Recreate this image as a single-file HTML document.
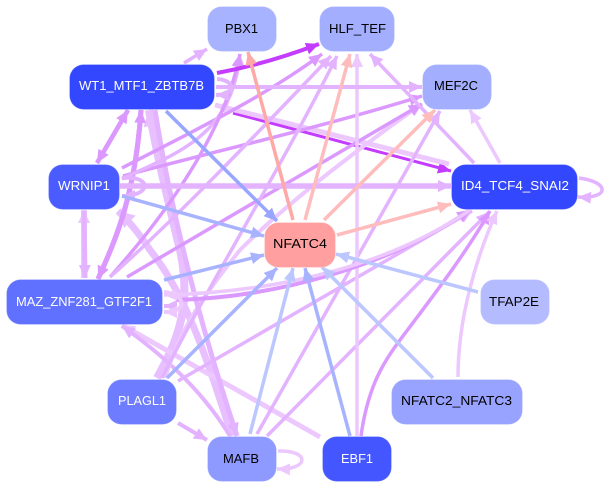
<!DOCTYPE html>
<html>
<head>
<meta charset="utf-8">
<style>
html,body{margin:0;padding:0;background:#fff;width:609px;height:489px;overflow:hidden}
svg{display:block}
svg>path{fill:none}
.c1{stroke:#e3b3ff;marker-end:url(#m1)}
.c2{stroke:#db99ff;marker-end:url(#m2)}
.c3{stroke:#c43cff;marker-end:url(#m3)}
.c4{stroke:#ecc8ff;marker-end:url(#m4)}
.b1{stroke:#98a6ff;marker-end:url(#b1)}
.b2{stroke:#a8b3ff;marker-end:url(#b2)}
.b3{stroke:#bcc6ff;marker-end:url(#b3)}
.r1{stroke:#ffa8a8;marker-end:url(#r1)}
.r2{stroke:#ffbcbc;marker-end:url(#r2)}
.L4{stroke:#e8c0ff;marker-end:url(#L4)}
text{font-family:"Liberation Sans",sans-serif;font-size:13px;text-anchor:start}
rect{stroke:#fff;stroke-opacity:.25;stroke-width:1}
</style>
</head>
<body>
<svg width="609" height="489" viewBox="0 0 609 489" xmlns="http://www.w3.org/2000/svg">
<defs>
<marker id="m1" markerUnits="userSpaceOnUse" viewBox="0 0 13 12" refX="13" refY="6" markerWidth="13" markerHeight="12" orient="auto"><polygon points="0,0 13,6 0,12" fill="#e3b3ff"/></marker>
<marker id="m2" markerUnits="userSpaceOnUse" viewBox="0 0 13 12" refX="13" refY="6" markerWidth="13" markerHeight="12" orient="auto"><polygon points="0,0 13,6 0,12" fill="#db99ff"/></marker>
<marker id="m3" markerUnits="userSpaceOnUse" viewBox="0 0 13 12" refX="13" refY="6" markerWidth="13" markerHeight="12" orient="auto"><polygon points="0,0 13,6 0,12" fill="#c43cff"/></marker>
<marker id="m4" markerUnits="userSpaceOnUse" viewBox="0 0 13 12" refX="13" refY="6" markerWidth="13" markerHeight="12" orient="auto"><polygon points="0,0 13,6 0,12" fill="#ecc8ff"/></marker>
<marker id="b1" markerUnits="userSpaceOnUse" viewBox="0 0 13 12" refX="13" refY="6" markerWidth="13" markerHeight="12" orient="auto"><polygon points="0,0 13,6 0,12" fill="#98a6ff"/></marker>
<marker id="b2" markerUnits="userSpaceOnUse" viewBox="0 0 13 12" refX="13" refY="6" markerWidth="13" markerHeight="12" orient="auto"><polygon points="0,0 13,6 0,12" fill="#a8b3ff"/></marker>
<marker id="b3" markerUnits="userSpaceOnUse" viewBox="0 0 13 12" refX="13" refY="6" markerWidth="13" markerHeight="12" orient="auto"><polygon points="0,0 13,6 0,12" fill="#bcc6ff"/></marker>
<marker id="r1" markerUnits="userSpaceOnUse" viewBox="0 0 13 12" refX="13" refY="6" markerWidth="13" markerHeight="12" orient="auto"><polygon points="0,0 13,6 0,12" fill="#ffa8a8"/></marker>
<marker id="r2" markerUnits="userSpaceOnUse" viewBox="0 0 13 12" refX="13" refY="6" markerWidth="13" markerHeight="12" orient="auto"><polygon points="0,0 13,6 0,12" fill="#ffbcbc"/></marker>
<marker id="L4" markerUnits="userSpaceOnUse" viewBox="0 0 16 17" refX="16" refY="8.500" markerWidth="16" markerHeight="17" orient="auto"><polygon points="0,0 16,8.500 0,17" fill="#e8c0ff"/></marker>
</defs>

<path class="c3" stroke-width="3" d="M233,113 L451,171"/>

<!-- thick light edges -->
<path class="L4" stroke-width="8" d="M157,378 C178,340 192,305 180,250 C168,200 158,160 149,110"/>
<path class="L4" stroke-width="7" d="M232,436 C210,370 190,300 150,250 C140,235 130,222 118,211"/>
<path class="c4" stroke-width="5" d="M449,164 L215,105"/>
<path class="c4" stroke-width="5" d="M320,437 L122,325"/>
<path class="c1" stroke-width="4" d="M230,436 C205,395 170,360 122,326"/>
<path class="c4" stroke-width="6" d="M84,278 L84,210"/>
<path class="c1" stroke-width="5" d="M84,211 L85,278"/>
<path class="c4" stroke-width="4" d="M165,378 C180,330 200,300 240,250 C290,200 370,140 422,104"/>

<!-- medium -->
<path class="c2" stroke-width="5" d="M98,279 C113,245 135,200 141,110"/>
<path class="c2" stroke-width="5" d="M141,110 C135,200 113,245 98,279"/>
<path class="c2" stroke-width="4.500" d="M97,163 L128,110"/>
<path class="c2" stroke-width="4.500" d="M128,110 L97,163"/>
<path class="c1" stroke-width="5" d="M155,110 C172,220 205,340 237,436"/>
<path class="c2" stroke-width="3.500" d="M122,168 C185,135 260,100 322,54"/>
<path class="c2" stroke-width="3.500" d="M123,176 C220,150 330,125 422,96"/>
<path class="c1" stroke-width="3.500" d="M122,179 C170,155 232,140 240,54"/>
<path class="c2" stroke-width="3.500" d="M110,277 C170,210 225,130 240,54"/>
<path class="c1" stroke-width="3.500" d="M110,277 C180,215 270,120 331,56"/>
<path class="c2" stroke-width="3.500" d="M127,277 L422,104"/>
<path class="c1" stroke-width="3.500" d="M162,378 C200,300 280,170 337,56"/>
<path class="c1" stroke-width="3.500" d="M178,381 L472,211"/>
<path class="c1" stroke-width="3.500" d="M267,436 L489,212"/>
<path class="c1" stroke-width="3.500" d="M257,434 L440,111"/>
<path class="c4" stroke-width="3.500" d="M357,436 L357,54"/>
<path class="c2" stroke-width="3.500" d="M361,436 C368,385 385,360 400,340 C430,300 465,255 490,211"/>
<path class="c4" stroke-width="3.500" d="M458,377 C458,320 475,260 497,211"/>
<path class="c2" stroke-width="4" d="M176,300 C280,297 390,265 470,210"/>
<path class="c4" stroke-width="3.500" d="M470,210 C390,265 280,292 164,295"/>
<path class="c1" stroke-width="4" d="M176,306 L164,306"/>
<path class="c4" stroke-width="4" d="M164,292 C185,294 190,312 164,312"/>
<path class="c1" stroke-width="3.500" d="M474,163 L370,54"/>
<path class="c4" stroke-width="3.500" d="M500,163 L470,110"/>
<path class="c1" stroke-width="3.500" d="M184,63 L207,49"/>
<path class="c3" stroke-width="4" d="M217,73 C255,66 290,55 319,44"/>
<path class="c1" stroke-width="4" d="M216,87 L422,87"/>
<path class="c1" stroke-width="4" d="M217,79 C236,80 236,95 216,95"/>
<path class="c1" stroke-width="5.500" d="M120,186 L451,186"/>
<path class="c1" stroke-width="4" d="M122,178 C152,175 152,196 122,196"/>
<path class="c1" stroke-width="4" d="M178,423 L207,440"/>
<path class="c4" stroke-width="3.500" d="M278,451 C310,450 310,470 277,469"/>
<path class="c1" stroke-width="3.500" d="M579,178 C610,182 610,199 578,197"/>

<!-- blue and red -->
<path class="b1" stroke-width="3.500" d="M166,111 L277,221"/>
<path class="b2" stroke-width="3.500" d="M122,196 L264,236"/>
<path class="b2" stroke-width="3.500" d="M164,280 L264,255"/>
<path class="b2" stroke-width="3.500" d="M167,378 L277,268"/>
<path class="b3" stroke-width="3.500" d="M250,434 L293,268"/>
<path class="b2" stroke-width="3.500" d="M350,436 L305,268"/>
<path class="b3" stroke-width="3.500" d="M433,378 L322,267"/>
<path class="b3" stroke-width="3.500" d="M478,292 L336,254"/>
<path class="r1" stroke-width="3.500" d="M293,220 L248,52"/>
<path class="r2" stroke-width="3.500" d="M305,220 L350,54"/>
<path class="r2" stroke-width="3.500" d="M324,220 L435,110"/>
<path class="r2" stroke-width="3.500" d="M337,235 L451,204"/>

<!-- nodes -->
<rect x="207.500" y="6.500" width="69" height="45" rx="14" fill="#a8b3ff"/>
<rect x="319.500" y="6.500" width="75" height="45" rx="14" fill="#a3aeff"/>
<rect x="69.500" y="64.500" width="145" height="45" rx="14" fill="#3347ff"/>
<rect x="422.500" y="64.500" width="69" height="45" rx="14" fill="#a3aeff"/>
<rect x="48.500" y="164.500" width="71" height="45" rx="14" fill="#4a5cff"/>
<rect x="451.500" y="164.500" width="126" height="45" rx="14" fill="#3347ff"/>
<rect x="264.500" y="222.500" width="71" height="45" rx="14" fill="#ff9f9f"/>
<rect x="6.500" y="279.500" width="156" height="45" rx="14" fill="#6070ff"/>
<rect x="480.500" y="279.500" width="69" height="45" rx="14" fill="#b4bbff"/>
<rect x="107.500" y="379.500" width="69" height="45" rx="14" fill="#6e7dff"/>
<rect x="391.500" y="379.500" width="131" height="45" rx="14" fill="#98a2ff"/>
<rect x="207.500" y="436.500" width="69" height="45" rx="14" fill="#8e9aff"/>
<rect x="322.500" y="436.500" width="69" height="45" rx="14" fill="#4456ff"/>

<text x="225" y="33" textLength="33" lengthAdjust="spacingAndGlyphs" fill="#000">PBX1</text>
<text x="329" y="33" textLength="57" lengthAdjust="spacingAndGlyphs" fill="#000">HLF_TEF</text>
<text x="79" y="90" textLength="125" lengthAdjust="spacingAndGlyphs" fill="#fff">WT1_MTF1_ZBTB7B</text>
<text x="434" y="90" textLength="44" lengthAdjust="spacingAndGlyphs" fill="#000">MEF2C</text>
<text x="58" y="190" textLength="52" lengthAdjust="spacingAndGlyphs" fill="#fff">WRNIP1</text>
<text x="461" y="190" textLength="108" lengthAdjust="spacingAndGlyphs" fill="#fff">ID4_TCF4_SNAI2</text>
<text x="273" y="248" textLength="54" lengthAdjust="spacingAndGlyphs" fill="#000">NFATC4</text>
<text x="16" y="306" textLength="136" lengthAdjust="spacingAndGlyphs" fill="#fff">MAZ_ZNF281_GTF2F1</text>
<text x="489" y="306" textLength="50" lengthAdjust="spacingAndGlyphs" fill="#000">TFAP2E</text>
<text x="118" y="405" textLength="48" lengthAdjust="spacingAndGlyphs" fill="#fff">PLAGL1</text>
<text x="401" y="405" textLength="111" lengthAdjust="spacingAndGlyphs" fill="#000">NFATC2_NFATC3</text>
<text x="223" y="463" textLength="36" lengthAdjust="spacingAndGlyphs" fill="#000">MAFB</text>
<text x="341" y="463" textLength="32" lengthAdjust="spacingAndGlyphs" fill="#fff">EBF1</text>
</svg>
</body>
</html>
